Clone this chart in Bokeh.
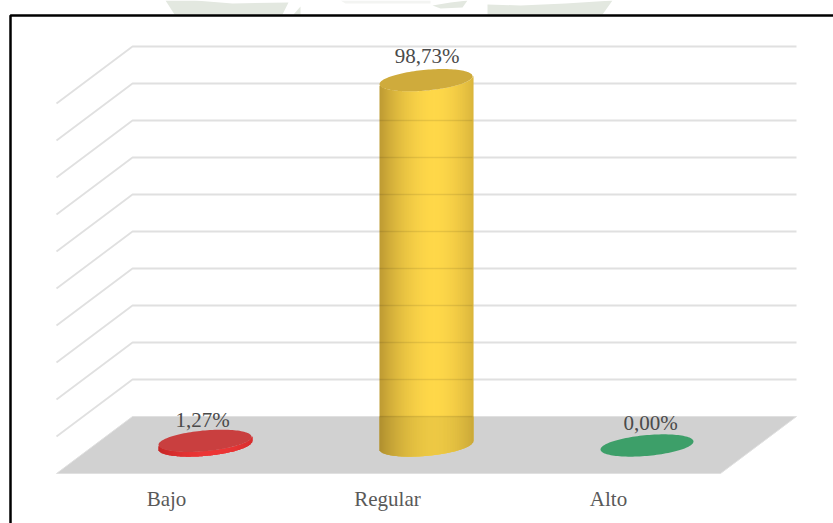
import numpy as np
from bokeh.embed import file_html
from bokeh.models import Range1d
from bokeh.plotting import figure
from bokeh.resources import INLINE
from bokeh.core.properties import value

# Chart data
categories = ["Bajo", "Regular", "Alto"]
percentages = [1.27, 98.73, 0.00]
percent_labels = ["1,27%", "98,73%", "0,00%"]
gridline_levels = [0, 10, 20, 30, 40, 50, 60, 70, 80, 90, 100]

# Colours per category: cap, shaded side edge, shaded side middle
face_colors = ["#c93f3f", "#cfab3c", "#3d9f69"]
edge_colors = ["#d42a2a", "#bd9a33", "#3d9f69"]
mid_colors = ["#ff3c3c", "#ffd84a", "#3d9f69"]

WIDTH, HEIGHT = 833, 523
PX_PER_UNIT = 3.7          # vertical pixels per percentage point
WALL_BASE_PX = 416         # screen row of the 0 % line on the back wall
DEPTH_DX, DEPTH_DY = 76, 57
WALL_LEFT, WALL_RIGHT = 132, 796
BAR_CENTERS = [204.5, 425.5, 646.5]
BASE_LEVEL = -29 / PX_PER_UNIT  # where the bars stand on the floor
RX, RY, SKEW = 46.5, 10.4, 4.0  # tilted ellipse of each cylinder cap
LABEL_SHIFT = 7.5          # baseline correction for the text glyphs, in pixels
FLOOR_SHADE = 0.93         # the side of a cylinder reads darker in front of the floor


def to_y(row):
    return (WALL_BASE_PX - row) / PX_PER_UNIT


p = figure(
    width=WIDTH, height=HEIGHT, output_backend="svg", toolbar_location=None,
    x_range=Range1d(0, WIDTH), y_range=Range1d(to_y(HEIGHT), to_y(0)),
    min_border=0, background_fill_color="white", border_fill_color="white",
    outline_line_color=None,
)
p.xaxis.visible = False
p.yaxis.visible = False
p.grid.visible = False

# Faint letterhead shapes above the frame
p.patches(
    xs=[[165, 195, 232, 288, 282, 174], [293, 300, 300], [432, 450, 467, 462, 440],
        [487, 520, 565, 612, 602, 487]],
    ys=[[to_y(r) for r in rows] for rows in
        [[0, 0, 3, 2, 14, 14], [14, 6, 14], [5, 2, 0, 7, 8],
         [4, 5, 3, 0, 14, 14]]],
    fill_color="#e3e8e0", line_color=None,
)
p.patch([340, 430, 430, 345], [to_y(r) for r in [0, 0, 3, 3]], fill_color="#f3f4f2", line_color=None)

# Chart frame: the top and left edges are drawn, the rest runs off the page
p.line([10, 10, WIDTH], [to_y(HEIGHT), to_y(15), to_y(15)], line_color="black", line_width=2.5)

# Back wall and side wall gridlines
for level in gridline_levels[1:]:
    p.line([WALL_LEFT - DEPTH_DX, WALL_LEFT, WALL_RIGHT],
           [level - DEPTH_DY / PX_PER_UNIT, level, level],
           line_color="#e0e0e0", line_width=1.8)

# Floor
floor_level = gridline_levels[0]
p.patch(
    [WALL_LEFT, WALL_RIGHT, WALL_RIGHT - DEPTH_DX, WALL_LEFT - DEPTH_DX],
    [floor_level, floor_level, floor_level - DEPTH_DY / PX_PER_UNIT, floor_level - DEPTH_DY / PX_PER_UNIT],
    fill_color="#d1d1d1", line_color="#e0e0e0", line_width=1,
)


def hex_rgb(c):
    return np.array([int(c[i:i + 2], 16) for i in (1, 3, 5)], dtype=float)


def to_hex(rows):
    return ["#%02x%02x%02x" % tuple(int(v) for v in c) for c in rows]


def lower_arc(xoff):
    # Screen-pixel offset of the cap's front edge from its centre, at offset xoff
    s = np.clip(xoff / RX, -1, 1)
    return SKEW * s - RY * np.sqrt(1 - s * s)


# Cylinders: overlapping shaded strips for the side, a tilted ellipse for the cap
theta = np.linspace(0, 2 * np.pi, 121)
for center, val, face, edge, mid in zip(BAR_CENTERS, percentages, face_colors, edge_colors, mid_colors):
    top = BASE_LEVEL + val
    if val > 0:
        lefts = np.arange(int(center - RX), int(center + RX) + 1)
        rights = lefts + 1.6
        rights[-1] = lefts[-1] + 1
        offs = lefts + 0.5 - center
        mix = np.clip(np.abs(offs - 8) / (RX + 8), 0, 1) ** 1.8
        rgb = hex_rgb(mid) * (1 - mix)[:, None] + hex_rgb(edge) * mix[:, None]
        upper = top + lower_arc(offs) / PX_PER_UNIT
        lower = BASE_LEVEL + lower_arc(offs) / PX_PER_UNIT
        p.quad(left=lefts, right=rights, top=upper, bottom=lower,
               fill_color=to_hex(rgb), line_color=None)
        # Lower stretch of the side, in front of the floor
        p.quad(left=lefts, right=rights, top=np.minimum(upper, floor_level), bottom=lower,
               fill_color=to_hex(rgb * FLOOR_SHADE), line_color=None)
        # Wall lines glimpsed through the translucent side
        for level in gridline_levels:
            if level < top - RY / PX_PER_UNIT:
                p.line([center - RX, center + RX], [level, level],
                       line_color="black", line_alpha=0.09, line_width=1.6)
    cap_x = center + RX * np.cos(theta)
    cap_y = top + (SKEW * np.cos(theta) + RY * np.sin(theta)) / PX_PER_UNIT
    p.patch(cap_x, cap_y, fill_color=face, line_color=None)

# Value labels above each cylinder
p.text(x=[202, 426.5, 650], y=[to_y(r - LABEL_SHIFT) for r in (427, 63, 430)], text=percent_labels,
       text_font=value("Liberation Serif"), text_font_size="21px", text_color="#4a4a4a",
       text_align="center", text_baseline="alphabetic")

# Category labels under the floor
p.text(x=[c - 38.5 for c in BAR_CENTERS], y=[to_y(506 - LABEL_SHIFT)] * 3, text=categories,
       text_font=value("Liberation Serif"), text_font_size="21px", text_color="#595959",
       text_align="center", text_baseline="alphabetic")

open("out.html", "w").write(file_html(p, INLINE))
